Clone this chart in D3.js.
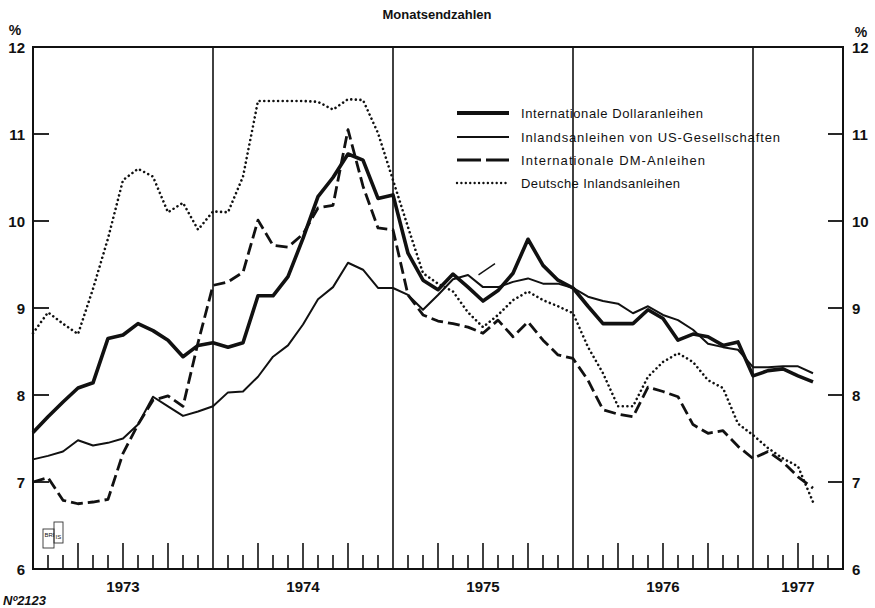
<!DOCTYPE html>
<html>
<head>
<meta charset="utf-8">
<script src="https://cdn.jsdelivr.net/npm/d3@7"></script>
<style>
  html, body { margin: 0; padding: 0; background: #fff; }
  svg { display: block; }
  text { font-family: "Liberation Sans", Arial, sans-serif; fill: #111; }
</style>
</head>
<body>
<svg id="chart" width="875" height="608"></svg>
<script>
// ---- Data (month-end values, index 0 = end of Dec 1972 ... 52 = end of Apr 1977) ----
const months = d3.range(0, 53);
const dollarBonds = [7.57,7.75,7.92,8.08,8.14,8.65,8.69,8.82,8.74,8.63,8.44,8.57,
  8.60,8.55,8.60,9.14,9.14,9.36,9.80,10.28,10.50,10.77,10.70,10.26,
  10.30,9.63,9.32,9.21,9.39,9.24,9.08,9.20,9.40,9.79,9.49,9.32,
  9.23,9.02,8.82,8.82,8.82,8.98,8.88,8.63,8.70,8.67,8.57,8.61,
  8.22,8.28,8.30,8.22,8.15];
const usCorporate = [7.26,7.30,7.35,7.48,7.42,7.45,7.50,7.66,7.98,7.87,7.76,7.81,
  7.87,8.03,8.04,8.21,8.44,8.57,8.81,9.10,9.24,9.52,9.44,9.23,
  9.23,9.15,8.98,9.15,9.33,9.38,9.24,9.24,9.30,9.34,9.28,9.28,
  9.23,9.13,9.08,9.05,8.94,9.02,8.92,8.86,8.75,8.59,8.55,8.52,
  8.32,8.32,8.33,8.33,8.25];
const dmBonds = [7.00,7.05,6.79,6.75,6.77,6.80,7.33,7.66,7.94,7.99,7.87,8.60,
  9.26,9.30,9.41,10.01,9.72,9.70,9.85,10.15,10.18,11.05,10.40,9.92,
  9.90,9.15,8.92,8.85,8.82,8.78,8.71,8.86,8.67,8.84,8.63,8.46,
  8.42,8.17,7.83,7.78,7.75,8.09,8.04,7.98,7.66,7.56,7.59,7.41,
  7.27,7.35,7.23,7.06,6.93];
const germanDomestic = [8.71,8.95,8.82,8.70,9.22,9.80,10.47,10.60,10.51,10.10,10.21,9.90,
  10.11,10.10,10.51,11.38,11.38,11.38,11.38,11.37,11.28,11.40,11.39,11.01,
  10.47,9.93,9.40,9.28,9.19,8.95,8.78,8.92,9.09,9.19,9.09,9.02,
  8.94,8.55,8.25,7.87,7.87,8.21,8.38,8.48,8.38,8.17,8.08,7.67,
  7.54,7.39,7.27,7.18,6.77];
// short stray stroke in the original print (in month-index units)
const strayIdx = [29.7, 30.8];
const strayVal = [9.38, 9.51];

const years = ["1973","1974","1975","1976","1977"];
const yearStartIdx = [0, 12, 24, 36, 48];
const yearLabelIdx = [6, 18, 30, 42, 51];
const yTicks = [6,7,8,9,10,11,12];
const seriesNames = ["Internationale Dollaranleihen","Inlandsanleihen von US-Gesellschaften",
  "Internationale DM-Anleihen","Deutsche Inlandsanleihen"];
const title = "Monatsendzahlen";

// ---- Layout ----
const svg = d3.select("#chart");
const L = 33, R = 843, T = 47, B = 569;
const x = d3.scaleLinear().domain([0, 54]).range([L, R]);
const y = d3.scaleLinear().domain([6, 12]).range([B, T]);

const styles = [
  {w: 3.6, dash: null, cap: "butt"},
  {w: 2.0, dash: null, cap: "butt"},
  {w: 2.8, dash: "12,5", cap: "butt"},
  {w: 2.6, dash: "0.01,4.6", cap: "round"}
];
const allSeries = [dollarBonds, usCorporate, dmBonds, germanDomestic];

// title
svg.append("text").attr("x", 437).attr("y", 19).attr("text-anchor", "middle")
  .style("font-size", "13px").style("font-weight", "bold").text(title);

// frame
const g = svg.append("g");
g.append("rect").attr("x", L).attr("y", T).attr("width", R - L).attr("height", B - T)
  .attr("fill", "none").attr("stroke", "#111").attr("stroke-width", 2);

// year separators
g.selectAll("line.yr").data(yearStartIdx.slice(1)).enter().append("line")
  .attr("x1", d => x(d)).attr("x2", d => x(d)).attr("y1", T).attr("y2", B)
  .attr("stroke", "#111").attr("stroke-width", 1.6);

// month ticks (bottom, inward)
const monthTicks = d3.range(1, 54).filter(i => i % 12 !== 0);
g.selectAll("line.mt").data(monthTicks).enter().append("line")
  .attr("x1", d => x(d)).attr("x2", d => x(d))
  .attr("y1", B).attr("y2", d => d % 3 === 0 ? B - 26 : B - 14)
  .attr("stroke", "#111").attr("stroke-width", 1.6);

// y ticks (inward on both sides)
const innerY = yTicks.filter(v => v > 6 && v < 12);
g.selectAll("line.yl").data(innerY).enter().append("line")
  .attr("x1", L).attr("x2", L + 16).attr("y1", d => y(d)).attr("y2", d => y(d))
  .attr("stroke", "#111").attr("stroke-width", 1.8);
g.selectAll("line.yr2").data(innerY).enter().append("line")
  .attr("x1", R).attr("x2", R - 15).attr("y1", d => y(d)).attr("y2", d => y(d))
  .attr("stroke", "#111").attr("stroke-width", 1.8);

// y labels
svg.selectAll("text.yl").data(yTicks).enter().append("text")
  .attr("x", 25).attr("y", d => y(d) + 5.5).attr("text-anchor", "end")
  .style("font-size", "15px").style("font-weight", "bold").text(d => d);
svg.selectAll("text.yr").data(yTicks).enter().append("text")
  .attr("x", 852).attr("y", d => y(d) + 5.5).attr("text-anchor", "start")
  .style("font-size", "15px").style("font-weight", "bold").text(d => d);
svg.append("text").attr("x", 15).attr("y", 35).attr("text-anchor", "middle")
  .style("font-size", "14px").style("font-weight", "bold").text("%");
svg.append("text").attr("x", 861).attr("y", 37).attr("text-anchor", "middle")
  .style("font-size", "14px").style("font-weight", "bold").text("%");

// year labels
svg.selectAll("text.year").data(years).enter().append("text")
  .attr("x", (d, i) => x(yearLabelIdx[i])).attr("y", 592).attr("text-anchor", "middle")
  .style("font-size", "15px").style("font-weight", "bold").text(d => d);

// lines
const line = d3.line().x((d, i) => x(months[i])).y(d => y(d)).curve(d3.curveLinear);
allSeries.forEach((s, k) => {
  const p = svg.append("path").datum(s).attr("d", line)
    .attr("fill", "none").attr("stroke", "#111")
    .attr("stroke-width", styles[k].w).attr("stroke-linejoin", "round")
    .attr("stroke-linecap", styles[k].cap);
  if (styles[k].dash) p.attr("stroke-dasharray", styles[k].dash);
});
// stray stroke
svg.append("path").datum(strayIdx.map((v, i) => [v, strayVal[i]]))
  .attr("d", d3.line().x(d => x(d[0])).y(d => y(d[1])))
  .attr("fill", "none").attr("stroke", "#111").attr("stroke-width", 1.4);

// legend
const legRows = [113, 137, 160, 183];
const legWidths = [182, 259, 184, 159];
const leg = svg.append("g");
seriesNames.forEach((name, k) => {
  const ly = legRows[k];
  const ln = leg.append("line").attr("x1", 457).attr("x2", 509).attr("y1", ly).attr("y2", ly)
    .attr("stroke", "#111").attr("stroke-width", k === 0 ? 4 : (k === 1 ? 2.2 : (k === 2 ? 3 : 2.4)))
    .attr("stroke-linecap", k === 3 ? "round" : "butt");
  if (k === 2) ln.attr("stroke-dasharray", "24,5");
  if (k === 3) ln.attr("stroke-dasharray", "0.01,4.4");
  leg.append("text").attr("x", 521).attr("y", ly + 4.5)
    .attr("textLength", legWidths[k]).attr("lengthAdjust", "spacing")
    .style("font-size", "13px").text(name);
});

// BIS stamp
const st = svg.append("g").attr("transform", "translate(43,522)");
st.append("rect").attr("x", 0).attr("y", 7).attr("width", 11).attr("height", 19)
  .attr("fill", "none").attr("stroke", "#333").attr("stroke-width", 0.9);
st.append("rect").attr("x", 11).attr("y", 0).attr("width", 9).attr("height", 21)
  .attr("fill", "none").attr("stroke", "#333").attr("stroke-width", 0.9);
st.append("text").attr("x", 1.5).attr("y", 15).style("font-size", "6px").text("BRI");
st.append("text").attr("x", 12.5).attr("y", 17).style("font-size", "6px").text("IS");

// catalogue number
svg.append("text").attr("x", 3).attr("y", 605)
  .style("font-size", "13px").style("font-style", "italic").style("font-weight", "bold")
  .text("Nº2123");
</script>
</body>
</html>
